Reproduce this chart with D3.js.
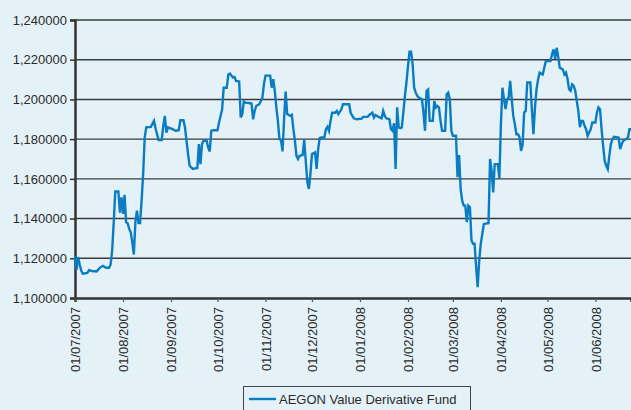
<!DOCTYPE html>
<html>
<head>
<meta charset="utf-8">
<script src="https://cdn.jsdelivr.net/npm/d3@7"></script>
<style>
  body { margin: 0; background: #e4f2f8; }
  svg { display: block; }
</style>
</head>
<body>
<div id="chart"></div>
<script>
// fund price, one row per month
var dates = [
  "01/07/2007","02/07/2007","03/07/2007","04/07/2007","05/07/2007","06/07/2007","09/07/2007","10/07/2007","12/07/2007","15/07/2007","17/07/2007","19/07/2007","21/07/2007","23/07/2007","24/07/2007","25/07/2007","26/07/2007","27/07/2007","29/07/2007","30/07/2007","31/07/2007",
  "01/08/2007","02/08/2007","03/08/2007","04/08/2007","05/08/2007","06/08/2007","07/08/2007","08/08/2007","09/08/2007","10/08/2007","11/08/2007","12/08/2007","13/08/2007","14/08/2007","15/08/2007","16/08/2007","19/08/2007","21/08/2007","22/08/2007","24/08/2007","26/08/2007","27/08/2007","28/08/2007","29/08/2007","30/08/2007",
  "02/09/2007","04/09/2007","06/09/2007","07/09/2007","09/09/2007","10/09/2007","11/09/2007","12/09/2007","13/09/2007","15/09/2007","18/09/2007","19/09/2007","20/09/2007","21/09/2007","22/09/2007","24/09/2007","25/09/2007","26/09/2007","27/09/2007","28/09/2007",
  "01/10/2007","02/10/2007","03/10/2007","04/10/2007","05/10/2007","07/10/2007","08/10/2007","09/10/2007","11/10/2007","12/10/2007","13/10/2007","15/10/2007","16/10/2007","17/10/2007","18/10/2007","19/10/2007","21/10/2007","23/10/2007","24/10/2007","25/10/2007","26/10/2007","28/10/2007","30/10/2007","31/10/2007",
  "01/11/2007","04/11/2007","05/11/2007","06/11/2007","07/11/2007","08/11/2007","09/11/2007","10/11/2007","11/11/2007","12/11/2007","13/11/2007","14/11/2007","15/11/2007","17/11/2007","18/11/2007","19/11/2007","20/11/2007","21/11/2007","22/11/2007","23/11/2007","25/11/2007","26/11/2007","27/11/2007","28/11/2007","29/11/2007","30/11/2007",
  "01/12/2007","03/12/2007","04/12/2007","05/12/2007","06/12/2007","07/12/2007","09/12/2007","10/12/2007","11/12/2007","12/12/2007","13/12/2007","14/12/2007","16/12/2007","17/12/2007","18/12/2007","20/12/2007","21/12/2007","25/12/2007","26/12/2007","28/12/2007","30/12/2007",
  "02/01/2008","03/01/2008","06/01/2008","07/01/2008","09/01/2008","10/01/2008","11/01/2008","13/01/2008","15/01/2008","16/01/2008","17/01/2008","18/01/2008","20/01/2008","21/01/2008","22/01/2008","23/01/2008","24/01/2008","25/01/2008","26/01/2008","27/01/2008","28/01/2008","29/01/2008","30/01/2008","31/01/2008",
  "01/02/2008","02/02/2008","03/02/2008","04/02/2008","05/02/2008","06/02/2008","07/02/2008","08/02/2008","10/02/2008","11/02/2008","12/02/2008","13/02/2008","14/02/2008","15/02/2008","17/02/2008","18/02/2008","19/02/2008","20/02/2008","21/02/2008","22/02/2008","23/02/2008","25/02/2008","26/02/2008","27/02/2008","28/02/2008","29/02/2008",
  "01/03/2008","03/03/2008","04/03/2008","05/03/2008","06/03/2008","07/03/2008","08/03/2008","09/03/2008","10/03/2008","11/03/2008","12/03/2008","13/03/2008","14/03/2008","15/03/2008","16/03/2008","17/03/2008","18/03/2008","19/03/2008","20/03/2008","21/03/2008","24/03/2008","25/03/2008","26/03/2008","27/03/2008","28/03/2008","30/03/2008","31/03/2008",
  "01/04/2008","02/04/2008","03/04/2008","04/04/2008","05/04/2008","06/04/2008","07/04/2008","08/04/2008","09/04/2008","10/04/2008","11/04/2008","12/04/2008","13/04/2008","14/04/2008","15/04/2008","16/04/2008","17/04/2008","18/04/2008","20/04/2008","21/04/2008","22/04/2008","23/04/2008","24/04/2008","25/04/2008","26/04/2008","27/04/2008","28/04/2008","29/04/2008","30/04/2008",
  "03/05/2008","04/05/2008","05/05/2008","06/05/2008","07/05/2008","08/05/2008","09/05/2008","11/05/2008","12/05/2008","13/05/2008","14/05/2008","15/05/2008","16/05/2008","17/05/2008","18/05/2008","19/05/2008","20/05/2008","21/05/2008","22/05/2008","23/05/2008","24/05/2008","25/05/2008","26/05/2008","27/05/2008","29/05/2008","30/05/2008",
  "01/06/2008","02/06/2008","03/06/2008","04/06/2008","05/06/2008","06/06/2008","07/06/2008","08/06/2008","09/06/2008","10/06/2008","11/06/2008","12/06/2008","13/06/2008","16/06/2008","17/06/2008","18/06/2008","19/06/2008","21/06/2008","22/06/2008","23/06/2008","24/06/2008"
];

var values = [
  1121000,1114200,1120600,1117000,1113900,1112200,1112600,1114000,1113600,1113400,1115200,1116200,1115200,1115200,1116900,1124000,1138000,1153600,1153600,1143000,1150700,
  1142300,1152000,1138200,1137700,1134800,1133100,1128000,1121900,1138200,1144000,1137700,1137700,1149000,1162400,1180800,1185900,1186200,1189200,1185500,1179500,1179500,1186700,1191700,1183300,1185900,
  1185000,1184200,1184500,1189500,1189500,1186000,1179200,1172500,1166600,1165000,1165500,1177500,1167400,1177500,1179200,1179200,1175800,1173800,1184200,1184500,
  1184500,1188400,1191700,1195000,1205900,1205900,1212600,1213000,1211000,1211300,1209300,1209000,1190900,1192600,1198900,1198400,1198200,1197900,1190000,1194200,1196700,1197600,1200900,1207700,
  1212000,1212000,1205900,1210200,1204300,1196000,1189200,1180000,1179500,1173800,1190000,1203900,1192600,1191700,1192200,1185000,1179200,1171600,1170000,1171600,1172000,1179500,1169000,1158500,1154900,1162400,
  1172500,1173300,1165000,1175000,1180500,1180800,1180800,1185000,1186200,1184200,1189200,1193300,1193300,1194200,1192600,1195000,1197600,1197600,1193300,1190500,1190000,
  1190300,1191200,1191200,1192200,1193300,1190900,1192200,1191200,1190500,1194200,1191700,1190500,1190000,1185000,1184200,1188000,1165000,1196000,1185900,1185500,1185900,1193300,1201700,1208400,
  1216700,1224000,1224000,1217700,1205900,1203400,1201800,1200900,1200100,1193400,1184200,1204300,1205000,1189200,1189200,1199200,1195900,1196700,1195900,1189200,1184200,1184200,1202600,1203400,1200100,1184200,
  1181700,1181700,1160800,1172000,1155000,1149000,1146500,1146500,1138200,1146500,1145700,1129000,1127300,1127300,1115600,1105500,1119000,1127300,1132300,1137300,1137700,1170000,1164100,1153200,1167400,1167400,1160300,
  1187500,1205900,1200100,1195100,1200100,1200900,1209300,1200000,1191700,1187500,1182500,1182500,1181000,1174100,1177000,1193400,1194200,1208500,1208500,1195000,1182500,1195900,1205100,1210100,1213500,1213000,1212600,1216000,1219300,
  1219300,1222700,1225200,1220500,1226000,1221500,1216000,1215100,1212600,1213500,1210500,1205100,1204300,1207600,1206800,1204300,1199200,1194200,1186000,1189200,1189200,1186700,1185000,1181700,1185000,1188400,
  1188400,1193400,1196000,1195100,1185000,1176700,1169100,1166600,1164900,1171600,1177500,1180000,1181200,1180800,1175000,1177500,1179200,1180000,1180800,1185000,1185000
];

var yTicks = [1100000, 1120000, 1140000, 1160000, 1180000, 1200000, 1220000, 1240000];
var seriesName = "AEGON Value Derivative Fund";

function init(){

    var w = 631;
    var h = 410;
    var left = 75, right = 631, top = 20, bottom = 298;

    var parse = d3.timeParse("%d/%m/%Y");
    var data = dates.map(function(d, i){
        return {date: parse(d), value: values[i]};
    });

    var xScale = d3.scaleTime()
                    .domain([parse("01/07/2007"), parse("24/06/2008")])
                    .range([left, right]);

    var yScale = d3.scaleLinear()
                    .domain([1100000, 1240000])
                    .range([bottom, top]);

    var svg = d3.select("#chart")
                .append("svg")
                .attr("width", w)
                .attr("height", h);

    svg.append("rect")
        .attr("width", w)
        .attr("height", h)
        .attr("fill", "#e4f2f8");

    //horizontal grid lines
    svg.selectAll("line.grid")
        .data(yTicks.slice(1))
        .enter()
        .append("line")
        .attr("class", "grid")
        .attr("x1", left)
        .attr("x2", right)
        .attr("y1", function(d){ return yScale(d); })
        .attr("y2", function(d){ return yScale(d); })
        .attr("stroke", "#3a3a3a")
        .attr("stroke-width", 1.4);

    //y axis, labels like 1,240000
    var yAxis = d3.axisLeft(yScale)
                    .tickValues(yTicks)
                    .tickSize(5)
                    .tickPadding(3)
                    .tickFormat(function(d){
                        var s = String(d);
                        return s.charAt(0) + "," + s.slice(1);
                    });

    var gy = svg.append("g")
        .attr("transform", "translate(" + left + ",0)")
        .call(yAxis);
    gy.select(".domain").attr("stroke", "#333").attr("stroke-width", 2.5);
    gy.selectAll(".tick line").attr("stroke", "#333").attr("stroke-width", 1.5);
    gy.selectAll("text")
        .attr("font-family", "Liberation Sans, Arial, sans-serif")
        .attr("font-size", "13px")
        .attr("fill", "#2a2a2a");

    //x axis, one tick per month
    var xAxis = d3.axisBottom(xScale)
                    .ticks(d3.timeMonth.every(1))
                    .tickSize(4)
                    .tickFormat(d3.timeFormat("%d/%m/%Y"));

    var gx = svg.append("g")
        .attr("transform", "translate(0," + bottom + ")")
        .call(xAxis);
    gx.select(".domain").attr("stroke", "#333").attr("stroke-width", 2.5);
    gx.selectAll(".tick line").attr("stroke", "#555").attr("stroke-width", 1.2);
    gx.selectAll("text")
        .attr("font-family", "Liberation Sans, Arial, sans-serif")
        .attr("font-size", "13px")
        .attr("fill", "#2a2a2a")
        .attr("text-anchor", "end")
        .attr("transform", "rotate(-90)")
        .attr("x", -9)
        .attr("y", 0)
        .attr("dy", "0.36em");

    //fund line
    var line = d3.line()
                    .x(function(d){ return xScale(d.date); })
                    .y(function(d){ return yScale(d.value); });

    svg.append("path")
        .datum(data)
        .attr("d", line)
        .attr("fill", "none")
        .attr("stroke", "#0a7cc2")
        .attr("stroke-width", 2.4)
        .attr("stroke-linejoin", "miter");

    //legend
    var legend = svg.append("g");
    legend.append("rect")
        .attr("x", 243.5)
        .attr("y", 386.5)
        .attr("width", 227)
        .attr("height", 40)
        .attr("fill", "none")
        .attr("stroke", "#444")
        .attr("stroke-width", 1);
    legend.append("line")
        .attr("x1", 249)
        .attr("x2", 276)
        .attr("y1", 399)
        .attr("y2", 399)
        .attr("stroke", "#0a7cc2")
        .attr("stroke-width", 2.4);
    legend.append("text")
        .attr("x", 279)
        .attr("y", 404)
        .text(seriesName)
        .attr("font-family", "Liberation Sans, Arial, sans-serif")
        .attr("font-size", "13px")
        .attr("fill", "#2a2a2a");
}

window.onload = init;
</script>
</body>
</html>
